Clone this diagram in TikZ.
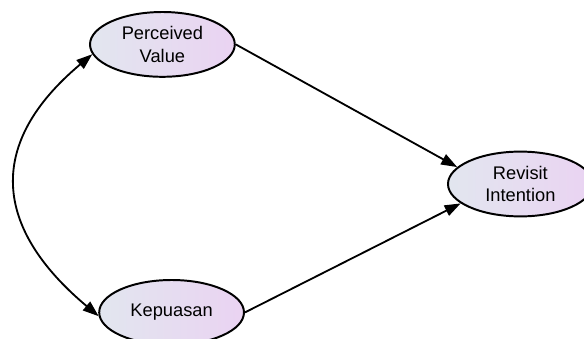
\documentclass[tikz,border=0pt]{standalone}
\usepackage{fontspec}
\setmainfont{Liberation Sans}
\usepackage{tikz}
\usetikzlibrary{arrows.meta,shapes}
\usepackage{xcolor}
\definecolor{lvgray}{RGB}{226,230,239}
\definecolor{lvpink}{RGB}{234,211,242}
\tikzstyle{latent} = [ellipse, draw, line width=1.4pt, left color=lvgray, right color=lvpink, minimum width=3.62cm, minimum height=1.62cm, inner sep=0pt, align=center, font=\fontsize{13}{16}\selectfont]
\tikzstyle{arrow} = [line width=1.3pt,->,>={Triangle[length=4mm,width=2.8mm]}]

\begin{document}
\begin{tikzpicture}
\useasboundingbox (0,0) rectangle (14.6,8.45);
\clip (0,0) rectangle (14.6,8.45);

% Latent variables
\node[latent] (pv) at (4.06,7.34) {Perceived\\Value};
\node[latent] (kep) at (4.29,0.64) {Kepuasan};
\node[latent] (ri) at (13.01,3.85) {Revisit\\Intention};

% Paths
\draw[arrow] (pv.east) -- (ri.165);
\draw[arrow] (kep.east) -- (ri.198);

% Covariance
\draw[arrow,<->] (pv.188) to[out=220,in=140,looseness=1.35] (kep.183);
\end{tikzpicture}
\end{document}
